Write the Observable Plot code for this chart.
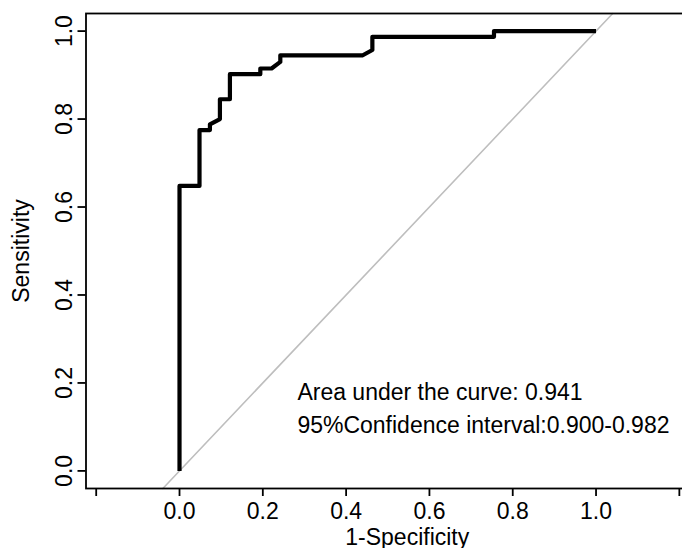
<!DOCTYPE html>
<html>
<head>
<meta charset="utf-8">
<script src="https://cdn.jsdelivr.net/npm/d3@7"></script>
<script src="https://cdn.jsdelivr.net/npm/@observablehq/plot@0.6"></script>
<style>
  html, body { margin: 0; padding: 0; background: #fff; overflow: hidden; }
  #chart svg { display: block; }
</style>
</head>
<body>
<div id="chart"></div>
<script>
// ROC curve points (1 - specificity, sensitivity)
const fpr = [0, 0, 0.048, 0.048, 0.073, 0.073, 0.097, 0.097, 0.121, 0.121, 0.194, 0.194, 0.221, 0.242, 0.242, 0.440, 0.463, 0.463, 0.755, 0.755, 1.0];
const tpr = [0, 0.648, 0.648, 0.775, 0.775, 0.788, 0.800, 0.845, 0.845, 0.902, 0.902, 0.915, 0.915, 0.930, 0.945, 0.945, 0.957, 0.987, 0.987, 1.0, 1.0];

const xTicks = [-0.2, 0, 0.2, 0.4, 0.6, 0.8, 1.0, 1.2];
const yTicks = [0, 0.2, 0.4, 0.6, 0.8, 1.0];
const xDomain = [-0.2245, 1.318];
const yDomain = [-0.04, 1.04];
const xLabel = "1-Specificity";
const yLabel = "Sensitivity";
const annotationLines = ["Area under the curve: 0.941", "95%Confidence interval:0.900-0.982"];

const roc = fpr.map((x, i) => ({x, y: tpr[i]}));
const FONT = "'Liberation Sans', Arial, Helvetica, sans-serif";

const chart = Plot.plot({
  width: 682,
  height: 548,
  marginLeft: 85.5,
  marginRight: -46,
  marginTop: 13,
  marginBottom: 60,
  style: {fontFamily: FONT, fontSize: "23px", color: "#000", background: "#fff"},
  x: {domain: xDomain, label: null},
  y: {domain: yDomain, label: null},
  marks: [
    Plot.line(yDomain, {x: d => d, y: d => d, stroke: "#bebebe", strokeWidth: 1.6}),
    Plot.line(roc, {x: "x", y: "y", stroke: "#000", strokeWidth: 4.2, strokeLinejoin: "round", strokeLinecap: "butt"}),
    Plot.frame({stroke: "#000", strokeWidth: 1.8}),
    Plot.axisX(xTicks, {
      label: null, tickSize: 8, tickPadding: 6, strokeWidth: 1.8, fontSize: 23,
      tickFormat: d => (d < 0 || d > 1) ? "" : d.toFixed(1)
    }),
    Plot.axisY(yTicks, {label: null, tickSize: 8, strokeWidth: 1.8, tickFormat: () => ""}),
    Plot.text(yTicks, {
      y: d => d, text: d => d.toFixed(1), frameAnchor: "left", dx: -14,
      rotate: -90, textAnchor: "middle", lineAnchor: "bottom", fontSize: 23, fill: "#000"
    }),
    Plot.text([yLabel], {
      text: d => d, frameAnchor: "left", dx: -57, rotate: -90,
      textAnchor: "middle", lineAnchor: "bottom", fontSize: 23, fill: "#000"
    }),
    Plot.text([xLabel], {
      text: d => d, frameAnchor: "bottom", dy: 56,
      textAnchor: "middle", lineAnchor: "bottom", fontSize: 23, fill: "#000"
    }),
    Plot.text([annotationLines.join("\n")], {
      x: 0.283, y: 0.087, text: d => d, textAnchor: "start", lineAnchor: "bottom",
      lineHeight: 1.4, fontSize: 23, fill: "#000"
    })
  ]
});
document.getElementById("chart").appendChild(chart);
</script>
</body>
</html>
